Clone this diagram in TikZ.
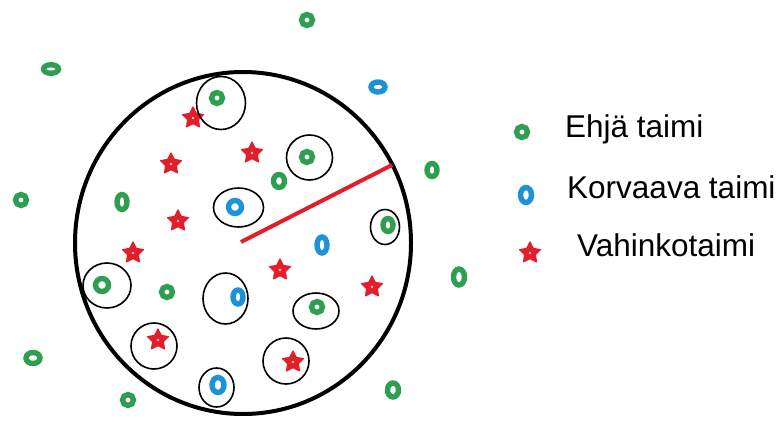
\documentclass[tikz,border=0pt]{standalone}
\usepackage{fontspec}
\setmainfont{Liberation Sans}
\usetikzlibrary{shapes.geometric}
\definecolor{gcol}{RGB}{46,158,80}
\definecolor{bcol}{RGB}{28,146,216}
\definecolor{rcol}{RGB}{226,30,42}
\tikzset{
  gring/.style={ellipse, draw=gcol, line width=5.4pt, inner sep=0pt, minimum width=11pt, minimum height=11pt},
  bring/.style={ellipse, draw=bcol, line width=5.4pt, inner sep=0pt, minimum width=10pt, minimum height=14pt},
  rstar/.style={star, star points=5, star point ratio=1.95, fill=rcol, draw=rcol, line width=1.2pt, line join=round, inner sep=0pt, minimum size=22pt},
  ring/.style={draw=black, line width=1.6pt},
  lbl/.style={anchor=base west, inner sep=0pt, font=\fontsize{31.5}{36}\selectfont},
}
\newcommand{\stardot}[2]{\fill[white!75!rcol] (#1,#2) circle (1.4pt);}
\begin{document}
\begin{tikzpicture}[x=1pt,y=-1pt]
\useasboundingbox (0,0) rectangle (783,422);
% big plot circle
\draw[line width=4pt] (243,243) ellipse [x radius=168, y radius=171];
\coordinate (ctr) at (241,242);
\coordinate (edge) at (392,165);
\draw[rcol, line width=4pt] (ctr) -- (edge);

% green rings
\node[gring] (g1) at (307,20) {};
\node[gring, minimum width=15pt, minimum height=8.5pt] (g2) at (51,69) {};
\node[gring] (g3) at (217,98) {};
\node[gring] (g4) at (307,157) {};
\node[gring, minimum height=13pt] (g5) at (279,181) {};
\node[gring] (g6) at (21,200) {};
\node[gring, minimum width=10pt, minimum height=15pt] (g7) at (122,202) {};
\node[gring, minimum width=10pt, minimum height=13pt] (g8) at (432,170) {};
\node[gring, minimum width=10pt, minimum height=13pt] (g9) at (388,225) {};
\node[gring, minimum width=13pt, minimum height=13pt] (g10) at (102,285) {};
\node[gring] (g11) at (167,292) {};
\node[gring] (g12) at (317,307) {};
\node[gring, minimum width=11pt, minimum height=16pt] (g13) at (459,277) {};
\node[gring, minimum width=14pt, minimum height=11pt] (g14) at (33,358) {};
\node[gring] (g15) at (128,400) {};
\node[gring, minimum width=11pt, minimum height=14pt] (g16) at (393,390) {};

% blue rings
\node[bring, minimum width=14pt, minimum height=10pt] (b1) at (378,87) {};
\node[bring, minimum width=13pt, minimum height=13pt] (b2) at (235,207) {};
\node[bring, minimum width=10pt, minimum height=16pt] (b3) at (322,245) {};
\node[bring] (b4) at (238,297) {};
\node[bring, minimum width=12pt, minimum height=15pt] (b5) at (218,385) {};

% red stars
\foreach \n/\x/\y in {s1/193/118, s2/252/153, s3/171/164, s4/178/221, s5/133/253, s6/280/270, s7/372/287, s8/158/340, s9/293/362}{
  \node[rstar] (\n) at (\x,\y) {};
  \stardot{\x}{\y}
}

% circled ones
\draw[ring] (221,103) ellipse [x radius=24.5, y radius=26.5];
\draw[ring] (309.5,157.5) ellipse [x radius=23, y radius=22.5];
\draw[ring] (238.5,207.5) ellipse [x radius=25, y radius=19.5];
\draw[ring] (385,227) ellipse [x radius=14.5, y radius=17.5];
\draw[ring] (107,285.5) ellipse [x radius=24, y radius=22.5];
\draw[ring] (225.5,298.5) ellipse [x radius=22.5, y radius=25.5];
\draw[ring] (316,311) ellipse [x radius=23, y radius=18];
\draw[ring] (154,346) ellipse [x radius=23, y radius=23];
\draw[ring] (286,361) ellipse [x radius=23, y radius=23];
\draw[ring] (216.5,387.5) ellipse [x radius=17.5, y radius=19.5];

% legend
\node[gring] (lg) at (522,132) {};
\node[bring, minimum width=11pt, minimum height=15pt] (lb) at (526,195) {};
\node[rstar] (ls) at (530,253) {};
\stardot{530}{253}
\node[lbl] (t1) at (565,138) {Ehjä taimi};
\node[lbl] (t2) at (567,198) {Korvaava taimi};
\node[lbl] (t3) at (577,256) {Vahinkotaimi};
\end{tikzpicture}
\end{document}
